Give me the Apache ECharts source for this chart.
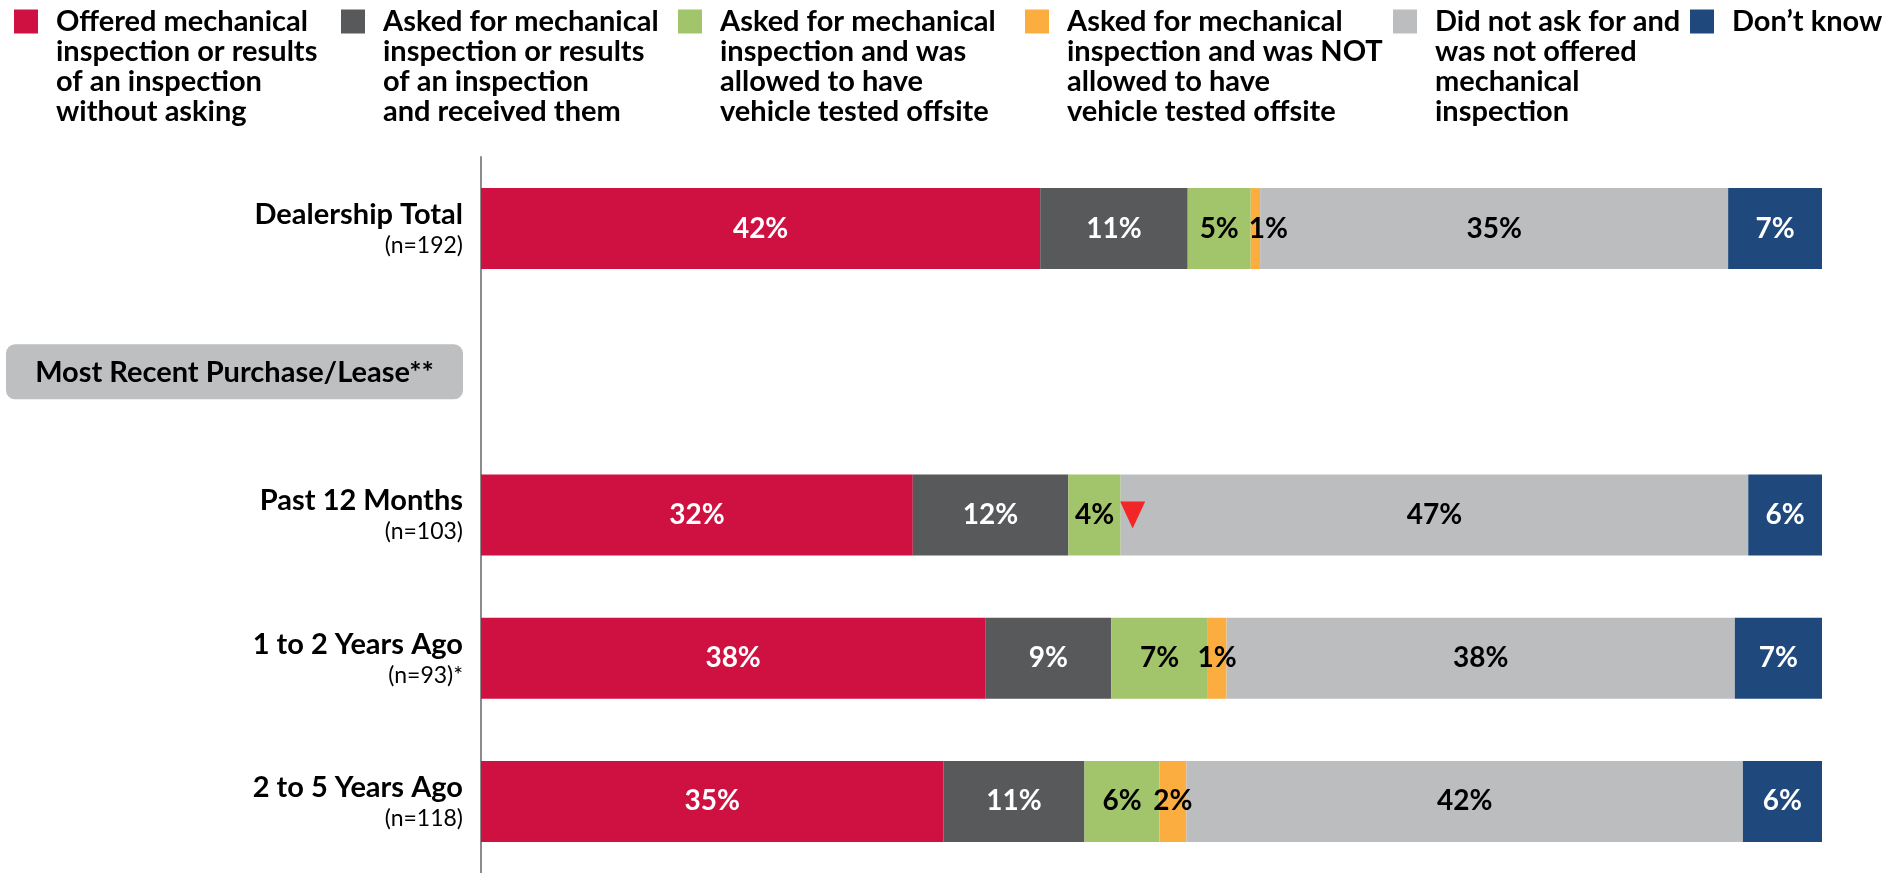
<!DOCTYPE html>
<html>
<head>
<meta charset="utf-8">
<script src="https://cdn.jsdelivr.net/npm/echarts@6/dist/echarts.min.js"></script>
<style>
  html, body { margin: 0; padding: 0; background: #fff; }
  #chart { width: 1895px; height: 873px; }
</style>
</head>
<body>
<div id="chart"></div>
<script>
// rows, top to bottom (row 1 is only the section header)
const categories = ['Dealership Total', 'Most Recent Purchase/Lease**', 'Past 12 Months', '1 to 2 Years Ago', '2 to 5 Years Ago']
const sampleSizes = ['(n=192)', '', '(n=103)', '(n=93)*', '(n=118)']

const responseNames = [
  'Offered mechanical\ninspection or results\nof an inspection\nwithout asking',
  'Asked for mechanical\ninspection or results\nof an inspection\nand received them',
  'Asked for mechanical\ninspection and was\nallowed to have\nvehicle tested offsite',
  'Asked for mechanical\ninspection and was NOT\nallowed to have\nvehicle tested offsite',
  'Did not ask for and\nwas not offered\nmechanical\ninspection',
  'Don’t know'
]

// percentages per row
const offered = [41.7, null, 32.2, 37.6, 34.5]
const askedReceived = [11.0, null, 11.6, 9.4, 10.5]
const offsiteAllowed = [4.7, null, 3.9, 7.2, 5.6]
const offsiteRefused = [0.7, null, 0, 1.4, 2.0]
const notAskedNotOffered = [34.9, null, 46.8, 37.9, 41.5]
const dontKnow = [7.0, null, 5.5, 6.5, 5.9]

// significantly lower than total (marker after "NOT allowed" segment)
const lowerThanTotal = [false, false, true, false, false]

const seriesValues = [offered, askedReceived, offsiteAllowed, offsiteRefused, notAskedNotOffered, dontKnow]
const colors = ['#cf1141', '#58595b', '#a2c46a', '#fbae3f', '#bcbdbf', '#1f497d']
const labelColors = ['#fff', '#fff', '#000', '#000', '#000', '#fff']
const legendLeft = [14, 341, 678, 1025, 1393, 1690]

const FONT = 'Lato'
const LINE = 30

const chart = echarts.init(document.getElementById('chart'))

const barSeries = seriesValues.map((vals, s) => ({
  name: responseNames[s],
  type: 'bar',
  stack: 'all',
  barWidth: 81,
  itemStyle: { color: colors[s] },
  label: {
    show: true,
    position: 'inside',
    color: labelColors[s],
    fontFamily: FONT,
    fontSize: 28,
    fontWeight: 'bold',
    formatter: p => (p.value > 0 ? Math.round(p.value) + '%' : '')
  },
  // the 1% next to 5% is nudged right so the two labels don't touch
  data: vals.map((v, i) => (s === 3 && i === 0 ? { value: v, label: { offset: [13, 0] } } : v))
}))

const markerData = []
lowerThanTotal.forEach((flag, i) => {
  if (flag) {
    const x = offered[i] + askedReceived[i] + offsiteAllowed[i] + offsiteRefused[i]
    markerData.push([x, i])
  }
})

// one legend per item so each sits where the original has it;
// blank lines on top keep the icon level with the first text line
const legends = responseNames.map((name, i) => {
  const lines = name.split('\n')
  const n = lines.length
  return {
    data: [name],
    left: legendLeft[i],
    top: 10 - ((2 * n - 1) * LINE / 2 - 12),
    padding: 0,
    icon: 'rect',
    itemWidth: 24,
    itemHeight: 24,
    selectedMode: false,
    formatter: () => {
      const pad = []
      for (let k = 1; k < n; k++) pad.push('{t| }')
      return pad.concat(lines.map(l => '{s|}{t|' + l + '}')).join('\n')
    },
    textStyle: {
      rich: {
        s: { width: 13 },
        t: {
          fontFamily: FONT,
          fontSize: 29,
          fontWeight: 'bold',
          color: '#000',
          lineHeight: LINE
        }
      }
    }
  }
})

const option = {
  animation: false,
  legend: legends,
  grid: {
    left: 481,
    right: 73,
    top: 157,
    bottom: 0
  },
  xAxis: {
    type: 'value',
    min: 0,
    max: 100,
    show: false
  },
  yAxis: {
    type: 'category',
    inverse: true,
    data: categories,
    axisLine: {
      show: true,
      lineStyle: { color: '#8c8c8c', width: 2 }
    },
    axisTick: { show: false },
    axisLabel: {
      margin: 18,
      formatter: (value, idx) => {
        if (idx === 1) return '{box|' + value + '}'
        return '{name|' + value + '}\n{n|' + sampleSizes[idx] + '}'
      },
      rich: {
        name: {
          fontFamily: FONT,
          fontSize: 29,
          fontWeight: 'bold',
          color: '#000',
          lineHeight: 30,
          align: 'right'
        },
        n: {
          fontFamily: FONT,
          fontSize: 23,
          color: '#000',
          lineHeight: 28,
          align: 'right',
          padding: [4, 0, 0, 0]
        },
        box: {
          fontFamily: FONT,
          fontSize: 29,
          fontWeight: 'bold',
          color: '#000',
          lineHeight: 30,
          width: 457,
          align: 'center',
          backgroundColor: '#bebfc1',
          borderRadius: 9,
          padding: [14, 0, 12, 0]
        }
      }
    }
  },
  series: barSeries.concat([{
    name: 'lower',
    type: 'scatter',
    symbol: 'triangle',
    symbolRotate: 180,
    symbolSize: [25, 27],
    symbolOffset: [12, 0],
    itemStyle: { color: '#ff0000' },
    z: 10,
    data: markerData
  }])
}

chart.setOption(option)
</script>
</body>
</html>
